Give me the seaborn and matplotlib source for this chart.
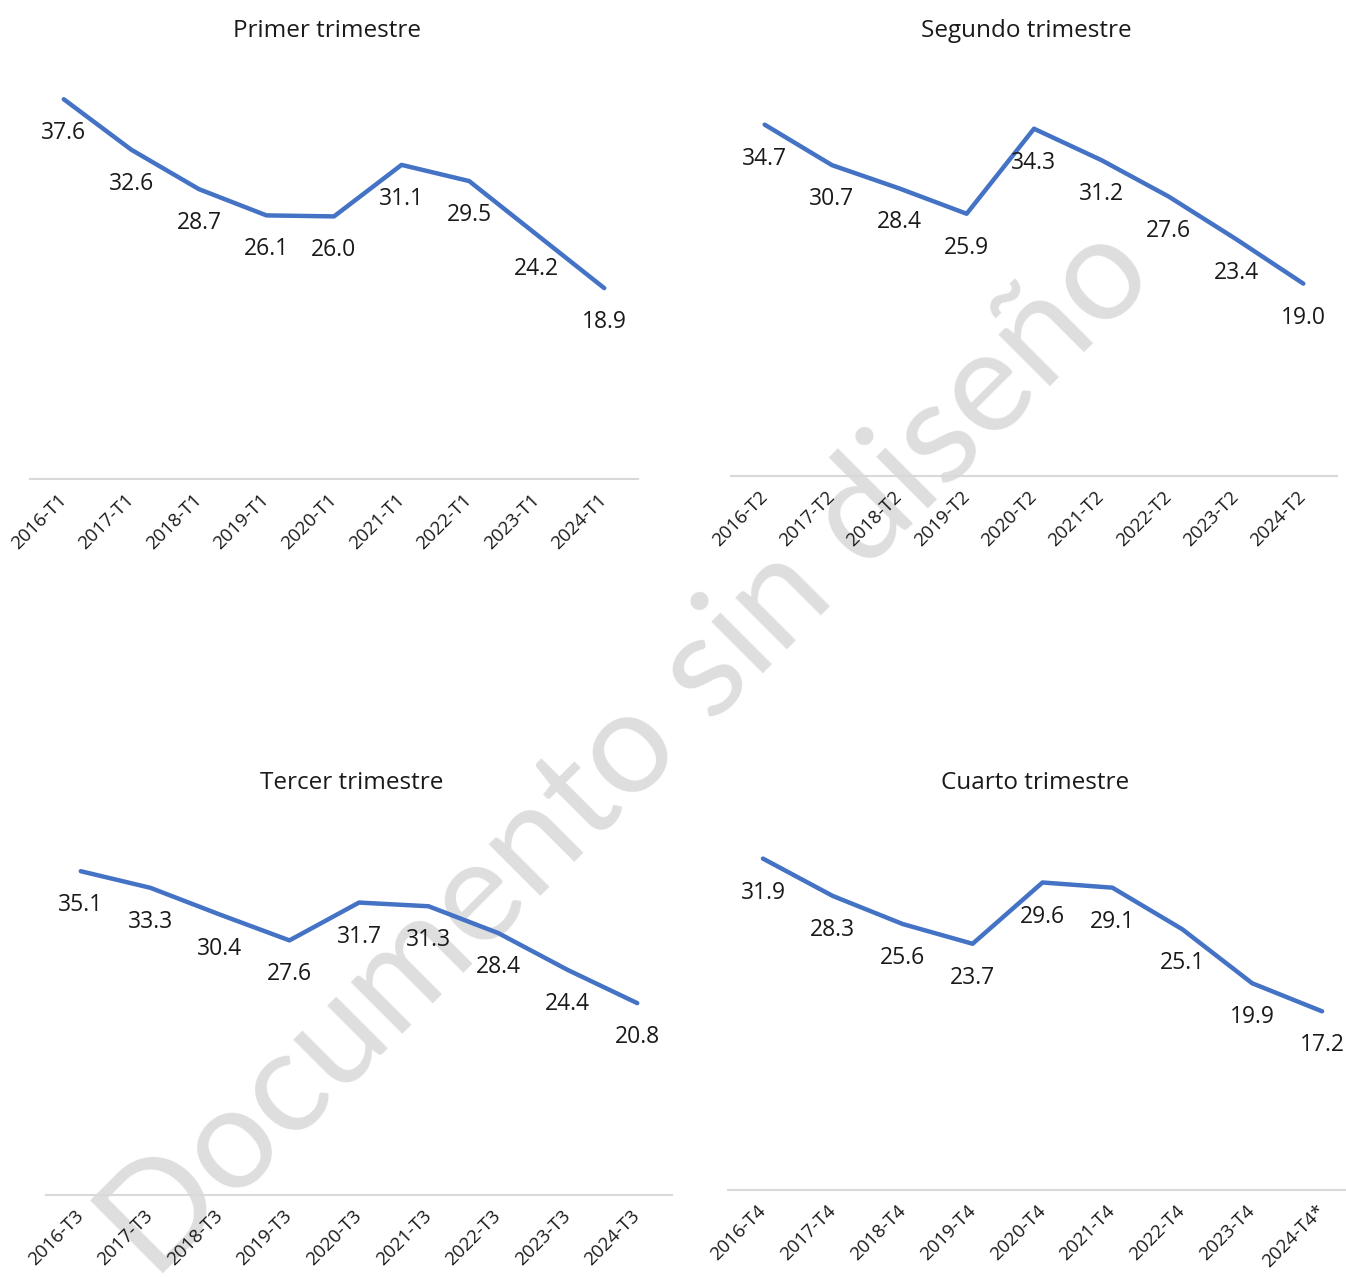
import pandas as pd
import matplotlib.pyplot as plt
import seaborn as sns

W, H = 1346, 1277

years = ["2016", "2017", "2018", "2019", "2020", "2021", "2022", "2023", "2024"]
titles = ["Primer trimestre", "Segundo trimestre", "Tercer trimestre", "Cuarto trimestre"]
t1 = [37.6, 32.6, 28.7, 26.1, 26.0, 31.1, 29.5, 24.2, 18.9]
t2 = [34.7, 30.7, 28.4, 25.9, 34.3, 31.2, 27.6, 23.4, 19.0]
t3 = [35.1, 33.3, 30.4, 27.6, 31.7, 31.3, 28.4, 24.4, 20.8]
t4 = [31.9, 28.3, 25.6, 23.7, 29.6, 29.1, 25.1, 19.9, 17.2]
series = [t1, t2, t3, t4]

sns.set_theme(style="white")
plt.rcParams["font.family"] = ["Open Sans", "DejaVu Sans"]

fig = plt.figure(figsize=(W / 100, H / 100), dpi=100)

# axes boxes in pixels: left, right, bottom, top ; ylim top ; title pad (px)
boxes = [
    (30, 638, 479, 75, 40, 38),
    (731, 1337, 476, 71, 40, 34),
    (46, 672, 1195, 826, 40, 37),
    (728, 1357, 1190, 816, 36, 27),
]

for i, (vals, title, box) in enumerate(zip(series, titles, boxes)):
    l, r, b, t, ytop, tpad = box
    ax = fig.add_axes([l / W, 1 - b / H, (r - l) / W, (b - t) / H])
    ax.set_facecolor("none")
    labels = [y + "-T" + str(i + 1) for y in years]
    if i == 3:
        labels[-1] = labels[-1] + "*"
    df = pd.DataFrame({"periodo": labels, "valor": vals})
    sns.lineplot(data=df, x="periodo", y="valor", ax=ax, color="#4472C4",
                 linewidth=3.2, sort=False)
    for x, v in enumerate(vals):
        ax.annotate(f"{v:.1f}", (x, v), xytext=(0, -24.5), textcoords="offset points",
                    ha="center", va="center", fontsize=16.5, color="#1a1a1a")
    ax.set_xlim(-0.5, 8.5)
    ax.set_ylim(0, ytop)
    ax.set_xlabel("")
    ax.set_ylabel("")
    ax.set_yticks([])
    ax.set_xticks(range(9))
    ax.set_xticklabels(labels, rotation=45, ha="right", va="center",
                       rotation_mode="anchor", fontsize=13.5, color="#1a1a1a")
    ax.tick_params(axis="x", length=0, pad=13)
    for s in ["top", "right", "left"]:
        ax.spines[s].set_visible(False)
    ax.spines["bottom"].set_color("#d9d9d9")
    ax.spines["bottom"].set_linewidth(1.5)
    ax.set_title(title, fontsize=17.5, x=0.488, pad=tpad * 0.72, color="#1a1a1a")

# watermark
fig.text(628 / W, 1 - 752 / H, "Documento sin diseño", rotation=45,
         rotation_mode="anchor", ha="center", va="center", fontsize=104,
         color="#dedede", zorder=-1, family="Lato")

fig.savefig("out.png", dpi=100)
